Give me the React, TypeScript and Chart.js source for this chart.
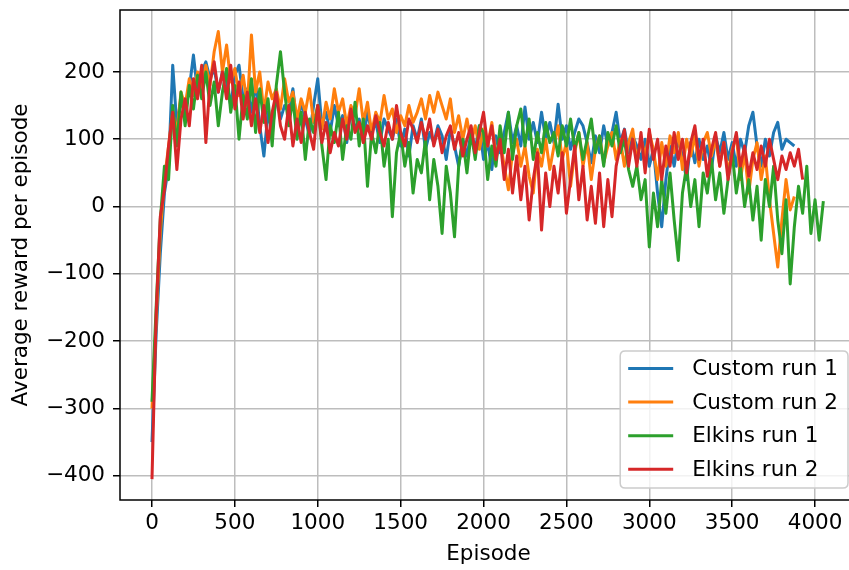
import React, { useEffect, useRef } from "react";
import { Chart, registerables } from "chart.js";

Chart.register(...registerables);

// ---------- data ----------
const episodes: number[] = [
  0, 25, 50, 75, 100, 125, 150, 175,
  200, 225, 250, 275, 300, 325, 350, 375,
  400, 425, 450, 475, 500, 525, 550, 575,
  600, 625, 650, 675, 700, 725, 750, 775,
  800, 825, 850, 875, 900, 925, 950, 975,
  1000, 1025, 1050, 1075, 1100, 1125, 1150, 1175,
  1200, 1225, 1250, 1275, 1300, 1325, 1350, 1375,
  1400, 1425, 1450, 1475, 1500, 1525, 1550, 1575,
  1600, 1625, 1650, 1675, 1700, 1725, 1750, 1775,
  1800, 1825, 1850, 1875, 1900, 1925, 1950, 1975,
  2000, 2025, 2050, 2075, 2100, 2125, 2150, 2175,
  2200, 2225, 2250, 2275, 2300, 2325, 2350, 2375,
  2400, 2425, 2450, 2475, 2500, 2525, 2550, 2575,
  2600, 2625, 2650, 2675, 2700, 2725, 2750, 2775,
  2800, 2825, 2850, 2875, 2900, 2925, 2950, 2975,
  3000, 3025, 3050, 3075, 3100, 3125, 3150, 3175,
  3200, 3225, 3250, 3275, 3300, 3325, 3350, 3375,
  3400, 3425, 3450, 3475, 3500, 3525, 3550, 3575,
  3600, 3625, 3650, 3675, 3700, 3725, 3750, 3775,
  3800, 3825, 3850, 3875, 3900, 3925, 3950, 3975,
  4000, 4025, 4050,
];

const customRun1: number[] = [
  -350, -190, -70, 20, 60, 210, 120, 160,
  140, 175, 225, 170, 200, 215, 190, 205,
  170, 200, 185, 150, 195, 210, 160, 175,
  140, 185, 120, 75, 140, 110, 165, 130,
  150, 140, 175, 120, 155, 130, 105, 150,
  190, 120, 140, 110, 150, 120, 135, 95,
  145, 115, 130, 100, 140, 110, 125, 95,
  130, 115, 100, 130, 90, 115, 75, 120,
  100, 130, 85, 110, 95, 120, 105, 70,
  115, 90, 60, 100, 75, 110, 85, 120,
  70, 95, 55, 105, 80, 110, 140, 95,
  120, 90, 148, 100, 125, 95, 140, 100,
  125, 95, 152, 100, 120, 85, 110, 130,
  120, 95, 65, 105, 80, 120, 90, 110,
  140, 95, 115, 80, 105, 90, 70, 100,
  60, 85, 20, -30, 40, 90, 60, 100,
  75, 40, 95, 65, 100, 70, 90, 55,
  105, 80, 110, 70, 95, 60, 100, 80,
  120, 140, 90, 60, 100, 75, 110, 125,
  85, 100, 95, 90,
];

const customRun2: number[] = [
  -300, -170, -40, 40, 90, 140, 110, 170,
  150, 190, 165, 200, 175, 210, 180, 230,
  260, 200, 240, 185, 205, 165, 195, 150,
  255, 170, 200, 140, 185, 160, 175, 145,
  190, 155, 170, 130, 160, 140, 175, 125,
  150, 115, 155, 130, 175, 140, 160, 120,
  150, 135, 175, 125, 155, 110, 140, 125,
  165, 130, 145, 110, 135, 120, 150, 125,
  140, 160, 130, 165, 140, 170, 150, 130,
  160, 110, 135, 100, 130, 95, 120, 85,
  115, 90, 125, 75, 100, 60, 25, 80,
  100, 60, 90, 45, 20, 85, 60, 100,
  55, 90, 120, 70, 95, 30, 80, 110,
  60, 95, 40, 85, 105, 65, 90, 110,
  70, 100, 60, 95, 115, 65, 100, 75,
  110, 85, 40, 95, 60, 105, 80, 110,
  55, 100, 75, 105, 60, 95, 110, 75,
  100, 60, 95, 50, 85, 105, 40, 80,
  20, 70, 95, 40, 75, 10, -40, -90,
  -20, 40, -5, 15,
];

const elkinsRun1: number[] = [
  -290, -150, -20, 60, 40, 150, 90, 170,
  120, 180, 145, 195, 160, 200, 150, 185,
  120, 170, 205, 140, 180, 100, 165, 130,
  190, 110, 175, 125, 160, 90, 180, 230,
  170, 120, 160, 100, 140, 70, 130, 110,
  150, 90, 40, 120, 95, 140, 70, 120,
  100, 155, 90, 130, 30, 110, 80, 125,
  60, 100, -15, 80, 110, 60, 95, 20,
  70, 50, 100, 10, 70, 30, -40, 60,
  20, -45, 60, 100, 50, 110, 70, 120,
  110, 40, 90, 60, 120, 80, 140, 70,
  120, 145, 90, 130, 70, 110, 80, 125,
  95, 110, 75, 120, 90, 130, 85, 110,
  70, 100, 130, 80, 105, 60, 110, 90,
  120, 80, 100, 55, 30, 60, 10, 40,
  -60, 20, -30, 40, -10, 50, -20, -80,
  20, 60, 0, 40, -30, 50, 20, 70,
  10, 50, -10, 40, 80, 20, 60, 0,
  40, -20, 30, -50, 40, 0, 60, -20,
  -70, 10, -115, -30, 30, -10, 60, -40,
  10, -50, 8,
];

const elkinsRun2: number[] = [
  -405, -160, -15, 25, 90, 140, 55, 130,
  160, 120, 190, 160, 210, 95, 185, 215,
  170, 200, 160, 210, 145, 185, 130, 170,
  120, 160, 110, 150, 95, 140, 170, 120,
  100, 150, 90, 130, 95, 140, 110, 85,
  150, 95, 125, 80, 110, 90, 130, 100,
  145, 110, 125, 95, 120, 100, 135, 110,
  90, 125, 100, 150, 110, 90, 130, 115,
  95, 125, 100, 130, 90, 115, 80, 105,
  120, 85, 110, 75, 100, 120, 80, 110,
  140, 90, 120, 70, 100, 40, 85, 20,
  75, 10, 60, -20, 40, 80, -35, 50,
  0, 60, 20, 80, -10, 40, 90, 10,
  60, -20, 30, -25, 50, -30, 40, -15,
  60, 90, 114, 60, 100, 60, 110, 50,
  115, 70, 100, 40, 90, 60, 110, 70,
  100, 50, 95, 120, 70, 100, 45, 85,
  110, 60, 95, 40, 80, 110, 60, 90,
  45, 80, 55, 90, 60, 100, 70, 40,
  75, 55, 80, 60, 85, 40,
];

const seriesNames: string[] = ["Custom run 1", "Custom run 2", "Elkins run 1", "Elkins run 2"];
const seriesColors: string[] = ["#1f77b4", "#ff7f0e", "#2ca02c", "#d62728"];
const xTickValues: number[] = [0, 500, 1000, 1500, 2000, 2500, 3000, 3500, 4000];
const yTickValues: number[] = [-400, -300, -200, -100, 0, 100, 200];

// ---------- style ----------
const FONT = '"DejaVu Sans", sans-serif';
const FONT_SIZE = 21.5;
const CANVAS_W = 870;
const CANVAS_H = 570;

const allSeries = [customRun1, customRun2, elkinsRun1, elkinsRun2];

function fmt(v: number): string {
  return v < 0 ? "\u2212" + Math.abs(v) : String(v);
}

const spinesPlugin = {
  id: "mplSpines",
  afterDatasetsDraw(chart: any) {
    const { ctx, chartArea: ca } = chart;
    ctx.save();
    ctx.strokeStyle = "#000";
    ctx.lineWidth = 1.5;
    ctx.strokeRect(ca.left, ca.top, ca.right - ca.left, ca.bottom - ca.top);
    ctx.restore();
  },
};

const legendPlugin = {
  id: "mplLegend",
  afterDraw(chart: any) {
    const { ctx, chartArea: ca } = chart;
    ctx.save();
    ctx.font = `${FONT_SIZE}px ${FONT}`;
    const textW = Math.max(...seriesNames.map((n) => ctx.measureText(n).width));
    const padL = 8, handleLen = 45, gap = 19, padR = 10;
    const boxW = padL + handleLen + gap + textW + padR;
    const boxH = 137;
    const right = ca.right - 9;
    const bottom = ca.bottom - 12;
    const left = right - boxW;
    const top = bottom - boxH;
    const r = 5;
    ctx.beginPath();
    ctx.moveTo(left + r, top);
    ctx.lineTo(right - r, top);
    ctx.quadraticCurveTo(right, top, right, top + r);
    ctx.lineTo(right, bottom - r);
    ctx.quadraticCurveTo(right, bottom, right - r, bottom);
    ctx.lineTo(left + r, bottom);
    ctx.quadraticCurveTo(left, bottom, left, bottom - r);
    ctx.lineTo(left, top + r);
    ctx.quadraticCurveTo(left, top, left + r, top);
    ctx.closePath();
    ctx.fillStyle = "rgba(255,255,255,0.8)";
    ctx.fill();
    ctx.strokeStyle = "#cccccc";
    ctx.lineWidth = 1.5;
    ctx.stroke();
    seriesNames.forEach((name, i) => {
      const y = top + 17.5 + i * 33.6;
      ctx.beginPath();
      ctx.strokeStyle = seriesColors[i];
      ctx.lineWidth = 3;
      ctx.moveTo(left + padL, y);
      ctx.lineTo(left + padL + handleLen, y);
      ctx.stroke();
      ctx.fillStyle = "#000";
      ctx.textBaseline = "middle";
      ctx.textAlign = "left";
      ctx.fillText(name, left + padL + handleLen + gap, y + 1);
    });
    ctx.restore();
  },
};

export default function App() {
  const canvasRef = useRef<HTMLCanvasElement | null>(null);

  useEffect(() => {
    if (!canvasRef.current) return;
    const font = { family: FONT, size: FONT_SIZE };
    const datasets = allSeries.map((vals, i) => ({
      label: seriesNames[i],
      data: vals.map((v, j) => ({ x: episodes[j], y: v })),
      borderColor: seriesColors[i],
      backgroundColor: seriesColors[i],
      borderWidth: 3,
      pointRadius: 0,
      tension: 0,
      fill: false,
      borderJoinStyle: "round" as const,
      order: 3 - i,
    }));
    const chart = new Chart(canvasRef.current, {
      type: "line",
      data: { datasets },
      plugins: [spinesPlugin, legendPlugin],
      options: {
        animation: false,
        responsive: false,
        devicePixelRatio: 1,
        layout: { padding: { top: 10, right: 13, bottom: 0, left: 0 } },
        plugins: { legend: { display: false }, tooltip: { enabled: false } },
        scales: {
          x: {
            type: "linear",
            min: -193,
            max: 4253,
            afterBuildTicks: (s: any) => {
              s.ticks = xTickValues.map((v) => ({ value: v }));
            },
            afterFit: (s: any) => {
              s.height = 70;
              s.paddingLeft = 0;
              s.paddingRight = 0;
            },
            grid: {
              color: "#bdbdbd",
              lineWidth: 1.5,
              drawTicks: true,
              tickLength: 7,
              tickColor: "#000",
              tickWidth: 1.5,
            },
            border: { display: false },
            ticks: {
              font,
              color: "#000",
              padding: 4,
              maxRotation: 0,
              autoSkip: false,
              callback: (v: any) => fmt(Number(v)),
            },
            title: {
              display: true,
              text: "Episode",
              font,
              color: "#000",
              padding: { top: 0, bottom: 3 },
            },
          },
          y: {
            type: "linear",
            min: -436,
            max: 292,
            afterBuildTicks: (s: any) => {
              s.ticks = yTickValues.map((v) => ({ value: v }));
            },
            afterFit: (s: any) => {
              s.width = 120;
              s.paddingTop = 0;
              s.paddingBottom = 0;
            },
            grid: {
              color: "#bdbdbd",
              lineWidth: 1.5,
              drawTicks: true,
              tickLength: 7,
              tickColor: "#000",
              tickWidth: 1.5,
            },
            border: { display: false },
            ticks: {
              font,
              color: "#000",
              padding: 8,
              autoSkip: false,
              callback: (v: any) => fmt(Number(v)),
            },
            title: {
              display: true,
              text: "Average reward per episode",
              font,
              color: "#000",
              padding: { top: 9, bottom: 0 },
            },
          },
        },
      },
    });
    return () => chart.destroy();
  }, []);

  return (
    <div
      style={{
        position: "absolute",
        left: 0,
        top: 0,
        width: 849,
        height: 570,
        overflow: "hidden",
        background: "#fff",
      }}
    >
      <canvas ref={canvasRef} width={CANVAS_W} height={CANVAS_H} style={{ display: "block" }} />
    </div>
  );
}
